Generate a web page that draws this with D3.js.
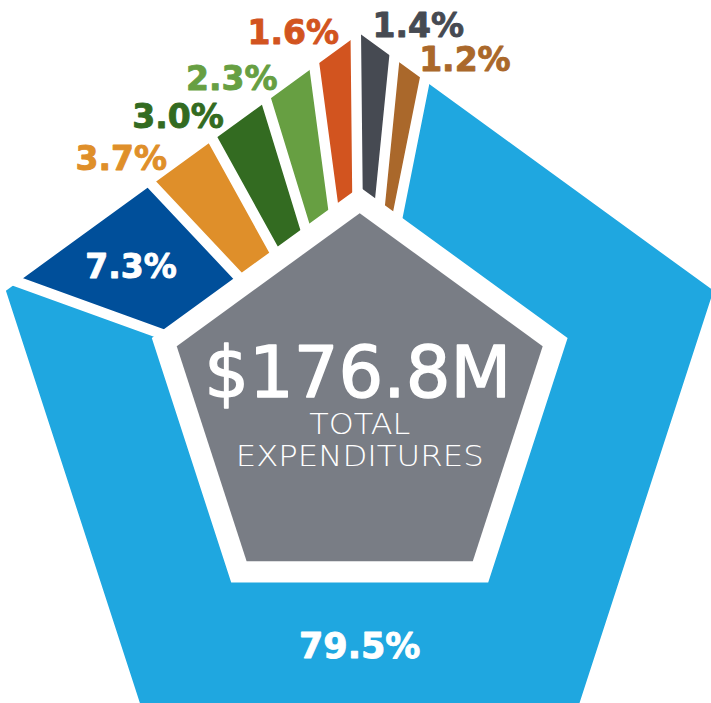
<!DOCTYPE html>
<html>
<head>
<meta charset="utf-8">
<script src="https://cdn.jsdelivr.net/npm/d3@7"></script>
<style>
  html, body { margin: 0; padding: 0; background: #ffffff; }
  svg { display: block; }
</style>
</head>
<body>
<svg id="chart" width="711" height="703"></svg>
<script>
// ---------------- data ----------------
const categories = ["Segment A", "Segment B", "Segment C", "Segment D",
                    "Segment E", "Segment F", "Segment G", "Segment H"];
const values = [79.5, 7.3, 3.7, 3.0, 2.3, 1.6, 1.4, 1.2];
const valueLabels = ["79.5%", "7.3%", "3.7%", "3.0%", "2.3%", "1.6%", "1.4%", "1.2%"];
const totalLabel = "$176.8M";
const subtitleLines = ["TOTAL", "EXPENDITURES"];

// ---------------- styles / layout ----------------
const colors = ["#1fa7e0", "#004f9a", "#df8f2a", "#336b21",
                "#679f42", "#d2541f", "#464a52", "#aa682b"];
const labelInside = [true, true, false, false, false, false, false, false];
const labelShiftDeg = [29.4, -2.0, -7.8, -9.1, -9.0, -6.0, 6.2, 8.4];
const labelRadius = [239.4, 267.6, 344, 342, 352, 379, 385, 362];

const cx = 359.7, cy = 405.6;
const rOuter = 372, rInner = 218.6, rCore = 192.4;
const gap = 10.5;
const deg = Math.PI / 180;
const padAngle = 1.42 * deg;
const startAngle = 11.3 * deg;

const svg = d3.select("#chart");
const g = svg.append("g").attr("transform", `translate(${cx},${cy})`);

const pentagon = r => d3.lineRadial()
  .angle(a => a)
  .radius(r)
  .curve(d3.curveLinearClosed)(d3.range(5).map(k => k * 2 * Math.PI / 5));

// ring clip (outer pentagon minus inner pentagon)
svg.append("defs").append("clipPath").attr("id", "ring")
  .append("path")
  .attr("clip-rule", "evenodd")
  .attr("d", pentagon(rOuter) + pentagon(rInner));

const pie = d3.pie()
  .sort(null)
  .value(d => d)
  .padAngle(padAngle)
  .startAngle(startAngle)
  .endAngle(startAngle + 2 * Math.PI);

const arcs = pie(values);

const arc = d3.arc()
  .innerRadius(150)
  .outerRadius(rOuter + 80)
  .padRadius(gap / (2 * Math.sin(padAngle / 2)));

g.append("g").attr("clip-path", "url(#ring)")
  .selectAll("path")
  .data(arcs)
  .join("path")
  .attr("d", arc)
  .attr("fill", (d, i) => colors[i]);

// center pentagon
g.append("path")
  .attr("d", pentagon(rCore))
  .attr("fill", "#797d85");

// slice labels
g.append("g")
  .selectAll("text")
  .data(arcs)
  .join("text")
  .each(function (d, i) {
    const mid = (d.startAngle + d.endAngle) / 2 + labelShiftDeg[i] * deg;
    const p = d3.pointRadial(mid, labelRadius[i]);
    d3.select(this).attr("x", p[0]).attr("y", p[1]);
  })
  .attr("dy", "0.36em")
  .attr("text-anchor", "middle")
  .attr("font-family", "'DejaVu Sans', sans-serif")
  .attr("font-weight", "bold")
  .attr("font-size", (d, i) => i === 0 ? 35 : 33)
  .attr("fill", (d, i) => labelInside[i] ? "#ffffff" : colors[i])
  .attr("stroke", (d, i) => labelInside[i] ? "#ffffff" : colors[i])
  .attr("stroke-width", 0.9)
  .attr("stroke-linejoin", "round")
  .text((d, i) => valueLabels[i]);

// center text
g.append("text")
  .attr("x", -2)
  .attr("y", -8.6)
  .attr("text-anchor", "middle")
  .attr("font-family", "'DejaVu Sans', sans-serif")
  .attr("font-size", 71)
  .attr("fill", "#ffffff")
  .attr("stroke", "#ffffff")
  .attr("stroke-width", 1.4)
  .attr("stroke-linejoin", "round")
  .attr("textLength", 307)
  .attr("lengthAdjust", "spacingAndGlyphs")
  .text(totalLabel);

const subY = [28, 60.3];
const subW = [101, 248];
g.append("g")
  .selectAll("text")
  .data(subtitleLines)
  .join("text")
  .attr("x", 0)
  .attr("y", (d, i) => subY[i])
  .attr("text-anchor", "middle")
  .attr("font-family", "'DejaVu Sans', sans-serif")
  .attr("font-weight", 200)
  .attr("font-size", 29)
  .attr("fill", "#ffffff")
  .attr("textLength", (d, i) => subW[i])
  .attr("lengthAdjust", "spacingAndGlyphs")
  .text(d => d);
</script>
</body>
</html>
